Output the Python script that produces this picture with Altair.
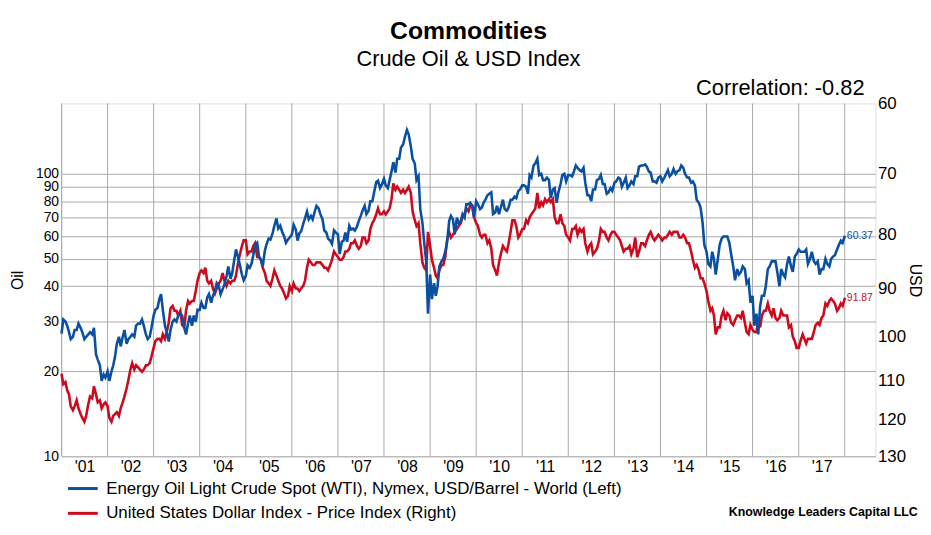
import altair as alt
import pandas as pd

BLUE = "#0b50a0"
RED = "#cc0a1e"
GRID = "#a9a9a9"
FONT = "Liberation Sans"

OIL_LABEL = "Energy Oil Light Crude Spot (WTI), Nymex, USD/Barrel - World  (Left)"
USD_LABEL = "United States Dollar Index - Price Index  (Right)"

# WTI crude, USD/barrel, twice a month (1st and 15th)
oil_2001 = [27.2, 30.5, 30.0, 29.0, 27.5, 26.0, 26.5, 28.0, 28.0, 29.5, 28.5, 27.5, 26.0, 26.5, 27.0, 27.5, 27.0, 28.5, 23.0, 22.0, 21.0, 18.5, 19.5, 19.0]
oil_2002 = [20.0, 18.5, 20.0, 21.0, 22.5, 25.0, 26.5, 24.5, 26.5, 28.0, 25.0, 26.0, 26.5, 27.0, 26.5, 29.0, 29.5, 29.5, 30.5, 29.0, 27.0, 26.0, 26.5, 28.5]
oil_2003 = [31.5, 33.0, 33.5, 36.0, 37.5, 33.0, 29.0, 27.5, 25.5, 28.0, 30.0, 30.5, 30.0, 31.5, 32.0, 31.5, 28.5, 27.0, 29.5, 31.5, 29.0, 31.5, 30.0, 33.0]
oil_2004 = [33.0, 35.0, 33.5, 33.5, 36.5, 37.5, 35.0, 37.0, 38.5, 41.0, 40.0, 37.5, 39.0, 40.5, 43.5, 47.0, 42.5, 44.5, 49.5, 54.0, 50.5, 47.5, 44.0, 42.0]
oil_2005 = [43.5, 47.5, 46.5, 48.0, 51.5, 56.0, 57.0, 51.0, 49.5, 47.0, 53.5, 56.5, 59.0, 58.5, 61.5, 65.5, 69.5, 64.0, 65.5, 62.5, 60.0, 57.0, 58.5, 59.5]
oil_2006 = [61.0, 66.0, 63.5, 58.0, 61.5, 62.5, 66.5, 69.5, 73.5, 69.0, 71.0, 69.0, 73.5, 77.0, 75.5, 72.0, 69.0, 63.0, 62.0, 59.0, 58.0, 56.5, 63.0, 62.0]
oil_2007 = [61.0, 52.0, 57.5, 58.0, 62.0, 57.5, 65.5, 63.5, 64.0, 63.0, 65.0, 68.0, 71.0, 74.0, 77.0, 72.0, 74.0, 80.0, 80.0, 86.0, 93.5, 94.5, 89.0, 91.5]
oil_2008 = [96.0, 91.0, 89.0, 95.0, 102.0, 110.0, 101.0, 113.0, 113.0, 124.0, 127.0, 135.0, 143.0, 138.0, 125.0, 113.0, 109.0, 95.0, 98.0, 75.0, 67.0, 57.0, 49.0, 32.0]
oil_2009 = [44.0, 36.0, 41.0, 37.0, 40.0, 47.0, 49.0, 50.0, 53.0, 57.0, 68.0, 71.0, 69.0, 61.0, 70.0, 67.0, 68.0, 72.0, 70.0, 78.0, 78.0, 79.0, 77.0, 70.0]
oil_2010 = [80.0, 78.0, 75.0, 76.0, 79.0, 81.0, 84.0, 85.0, 86.0, 72.0, 73.0, 77.0, 72.0, 76.0, 81.0, 75.0, 74.0, 76.0, 81.0, 81.0, 83.0, 82.0, 87.0, 88.0]
oil_2011 = [91.0, 91.0, 90.0, 85.0, 99.0, 97.0, 107.0, 109.0, 113.0, 99.0, 100.0, 95.0, 95.0, 97.0, 95.0, 82.0, 88.0, 89.0, 79.0, 86.0, 92.0, 99.0, 100.0, 94.0]
oil_2012 = [99.0, 99.0, 98.0, 102.0, 107.0, 105.0, 103.0, 102.0, 105.0, 93.0, 84.0, 84.0, 80.0, 88.0, 88.0, 95.0, 96.0, 99.0, 92.0, 92.0, 85.0, 86.0, 89.0, 87.0]
oil_2013 = [93.0, 94.0, 97.0, 96.0, 90.0, 93.0, 97.0, 89.0, 91.0, 94.0, 92.0, 98.0, 98.0, 106.0, 107.0, 107.0, 108.0, 106.0, 102.0, 101.0, 94.0, 94.0, 93.0, 97.0]
oil_2014 = [98.0, 94.0, 97.0, 100.0, 103.0, 98.0, 100.0, 104.0, 100.0, 102.0, 103.0, 107.0, 105.0, 100.0, 97.0, 97.0, 93.0, 94.0, 91.0, 81.0, 79.0, 76.0, 67.0, 56.0]
oil_2015 = [53.0, 48.0, 47.0, 53.0, 50.0, 44.0, 50.0, 56.0, 59.0, 60.0, 60.0, 60.0, 57.0, 52.0, 47.0, 42.0, 46.0, 44.0, 45.0, 47.0, 46.0, 41.0, 42.0, 35.0]
oil_2016 = [37.0, 29.0, 32.0, 27.0, 34.0, 37.0, 37.0, 40.0, 46.0, 47.0, 49.0, 49.0, 49.0, 45.0, 40.0, 46.0, 44.0, 43.0, 48.0, 51.0, 47.0, 45.0, 51.0, 52.0]
oil_2017 = [54.0, 53.0, 53.0, 53.0, 54.0, 48.0, 50.0, 53.0, 49.0, 48.0, 49.0, 44.0, 46.0, 46.0, 50.0, 48.0, 47.0, 50.0, 51.0, 51.5, 54.0, 56.0, 58.0, 57.0]
oil_last = [60.37]

# US Dollar Index, same dates
usd_2001 = [108.5, 111.0, 110.5, 112.5, 113.5, 116.5, 117.5, 116.5, 115.0, 117.0, 118.5, 119.5, 120.5, 119.0, 116.0, 114.0, 114.5, 111.5, 113.5, 115.5, 115.0, 117.0, 116.0, 115.5]
usd_2002 = [116.5, 119.5, 120.5, 119.0, 118.5, 118.0, 119.0, 117.0, 115.5, 114.0, 112.0, 110.0, 107.5, 106.0, 107.5, 106.5, 107.0, 107.5, 108.0, 107.5, 106.5, 106.5, 106.0, 104.5]
usd_2003 = [102.5, 101.0, 100.5, 100.5, 101.0, 99.5, 100.5, 99.0, 97.0, 94.0, 93.5, 94.5, 94.5, 95.5, 94.5, 97.5, 98.0, 94.5, 92.5, 93.0, 92.5, 92.5, 90.5, 88.5]
usd_2004 = [87.0, 86.5, 87.0, 86.0, 88.5, 89.0, 88.5, 90.0, 91.0, 90.0, 89.0, 88.5, 87.0, 88.5, 89.5, 88.5, 89.0, 88.5, 88.5, 87.5, 85.0, 83.5, 82.0, 81.0]
usd_2005 = [81.0, 83.5, 83.0, 83.0, 82.0, 81.5, 84.0, 84.0, 84.5, 86.0, 87.0, 88.5, 89.0, 89.5, 88.0, 86.5, 87.5, 88.5, 89.5, 90.0, 91.0, 92.0, 91.5, 89.5]
usd_2006 = [90.5, 89.0, 90.0, 90.0, 90.5, 90.0, 89.5, 88.5, 86.0, 84.5, 85.0, 85.5, 85.5, 85.0, 85.0, 85.0, 85.5, 86.0, 86.0, 86.5, 85.5, 84.5, 83.0, 83.5]
usd_2007 = [84.0, 84.5, 84.5, 84.0, 83.0, 83.0, 82.5, 81.5, 81.5, 81.0, 82.0, 82.5, 82.0, 80.5, 80.5, 81.5, 81.0, 79.0, 78.0, 77.5, 76.5, 75.5, 76.5, 76.5]
usd_2008 = [76.0, 76.5, 76.0, 75.5, 74.0, 71.5, 72.5, 72.0, 72.5, 73.0, 72.5, 73.0, 72.5, 72.0, 73.0, 76.0, 77.5, 78.5, 78.0, 81.5, 85.0, 86.0, 86.5, 79.5]
usd_2009 = [82.0, 84.5, 86.0, 87.5, 88.0, 86.5, 85.5, 85.5, 84.0, 81.0, 79.5, 80.5, 80.0, 79.5, 79.0, 78.5, 78.0, 77.0, 76.5, 75.5, 76.0, 75.0, 75.0, 77.0]
usd_2010 = [78.0, 78.5, 80.0, 80.5, 80.0, 80.0, 81.5, 81.0, 82.5, 85.5, 86.5, 87.5, 85.0, 83.5, 82.0, 82.5, 83.0, 81.5, 79.5, 77.5, 77.5, 78.5, 80.5, 80.0]
usd_2011 = [79.0, 79.0, 77.5, 78.0, 77.0, 76.5, 76.0, 75.5, 73.0, 75.5, 74.5, 75.0, 74.0, 74.5, 74.0, 74.5, 74.0, 77.0, 78.0, 78.0, 76.5, 78.0, 78.5, 80.0]
usd_2012 = [80.5, 81.0, 79.0, 79.0, 78.5, 80.0, 79.0, 79.5, 79.0, 81.5, 83.0, 82.0, 81.5, 83.5, 83.0, 82.5, 81.0, 79.0, 79.5, 79.5, 80.5, 81.0, 80.0, 79.5]
usd_2013 = [79.5, 80.0, 80.5, 81.0, 82.0, 83.0, 82.5, 82.5, 82.0, 83.5, 82.5, 80.5, 84.0, 83.0, 81.5, 81.5, 82.0, 81.0, 80.0, 79.5, 80.5, 81.0, 80.5, 80.0]
usd_2014 = [80.5, 81.0, 80.5, 80.5, 80.0, 79.5, 80.0, 79.5, 79.5, 79.5, 80.5, 80.5, 80.0, 80.5, 81.5, 81.5, 83.0, 84.5, 86.0, 85.5, 86.5, 88.0, 88.0, 89.0]
usd_2015 = [90.5, 92.5, 94.5, 94.0, 95.5, 99.5, 98.0, 98.0, 95.5, 94.5, 96.5, 95.0, 95.5, 97.0, 97.5, 96.5, 95.5, 95.5, 96.0, 94.5, 97.0, 99.0, 99.5, 97.5]
usd_2016 = [98.5, 99.0, 99.0, 96.5, 98.0, 95.5, 94.5, 94.5, 93.0, 94.5, 95.5, 94.0, 96.0, 96.5, 96.0, 94.5, 95.5, 95.5, 95.5, 98.0, 97.5, 100.0, 101.0, 102.5]
usd_2017 = [102.5, 101.0, 99.5, 100.5, 101.5, 100.5, 100.5, 100.5, 99.0, 97.5, 97.0, 97.5, 96.0, 95.5, 93.0, 93.5, 92.5, 92.0, 92.5, 93.0, 94.5, 94.0, 93.0, 93.5]
usd_last = [91.87]

oil_ticks = [10, 20, 30, 40, 50, 60, 70, 80, 90, 100]
usd_ticks = [60, 70, 80, 90, 100, 110, 120, 130]
years = list(range(2001, 2018))
grid_years = list(range(2001, 2019))
correlation_text = ["Correlation: -0.82"]
source_text = ["Knowledge Leaders Capital LLC"]

oil_values = (oil_2001 + oil_2002 + oil_2003 + oil_2004 + oil_2005 + oil_2006 + oil_2007 + oil_2008
              + oil_2009 + oil_2010 + oil_2011 + oil_2012 + oil_2013 + oil_2014 + oil_2015 + oil_2016
              + oil_2017 + oil_last)
usd_values = (usd_2001 + usd_2002 + usd_2003 + usd_2004 + usd_2005 + usd_2006 + usd_2007 + usd_2008
              + usd_2009 + usd_2010 + usd_2011 + usd_2012 + usd_2013 + usd_2014 + usd_2015 + usd_2016
              + usd_2017 + usd_last)
dates = list(pd.date_range("2001-01-01", "2017-12-15", freq="SMS")) + [pd.Timestamp("2018-01-02")]

df = pd.DataFrame({"date": dates, "oil": oil_values, "usd": usd_values})
last_df = df.tail(1)
grid_df = pd.DataFrame({"date": [pd.Timestamp(f"{y}-01-01") for y in grid_years]})

x_enc = alt.X(
    "date:T",
    scale=alt.Scale(domain=[alt.DateTime(year=2001, month=1, date=1),
                            alt.DateTime(year=2018, month=9, date=1)]),
    axis=alt.Axis(
        values=[alt.DateTime(year=y, month=7, date=2) for y in years],
        labelExpr="\"'\" + timeFormat(datum.value, '%y')",
        grid=False, ticks=False, domain=False, title=None,
        labelFontSize=16, labelPadding=2, labelColor="black", labelFont=FONT,
    ),
)

oil_scale = alt.Scale(type="log", domain=[10, 177.5], nice=False, zero=False)
usd_scale = alt.Scale(type="log", domain=[60, 130], nice=False, zero=False, reverse=True)

oil_axis = alt.Axis(
    orient="left", values=oil_ticks, format="d", grid=True, gridColor=GRID, gridWidth=1,
    ticks=False, domain=False, labelOverlap=False, labelFontSize=14, labelPadding=3,
    labelColor="black", labelFont=FONT, title="Oil", titleFontSize=16, titleFontWeight="normal",
    titleColor="black", titleFont=FONT, titlePadding=10,
)
usd_axis = alt.Axis(
    orient="right", values=usd_ticks, format="d", grid=False,
    ticks=False, domain=False, labelOverlap=False, labelFontSize=17, labelPadding=2,
    labelColor="black", labelFont=FONT, title="USD", titleFontSize=16, titleFontWeight="normal",
    titleColor="black", titleFont=FONT, titlePadding=1,
)

color_scale = alt.Scale(domain=[OIL_LABEL, USD_LABEL], range=[BLUE, RED])
legend = alt.Legend(
    orient="none", legendX=5, legendY=372, title=None, direction="vertical",
    symbolType="stroke", symbolSize=900, symbolStrokeWidth=3,
    labelFontSize=17, labelFont=FONT, labelColor="black", labelOffset=7, labelLimit=900,
    rowPadding=-10, padding=0,
)

grid = alt.Chart(grid_df).mark_rule(color=GRID, strokeWidth=1).encode(x=x_enc)

oil_line = alt.Chart(df).transform_calculate(series=f"'{OIL_LABEL}'").mark_line(strokeWidth=2.6).encode(
    x=x_enc,
    y=alt.Y("oil:Q", scale=oil_scale, axis=oil_axis),
    color=alt.Color("series:N", scale=color_scale, legend=legend),
)
oil_label = alt.Chart(last_df).mark_text(
    align="left", baseline="middle", dx=2, fontSize=10.5, font=FONT, color=BLUE
).encode(
    x=x_enc,
    y=alt.Y("oil:Q", scale=oil_scale, axis=oil_axis),
    text=alt.Text("oil:Q", format=".2f"),
)

usd_line = alt.Chart(df).transform_calculate(series=f"'{USD_LABEL}'").mark_line(strokeWidth=2.6).encode(
    x=x_enc,
    y=alt.Y("usd:Q", scale=usd_scale, axis=usd_axis),
    color=alt.Color("series:N", scale=color_scale, legend=legend),
)
usd_label = alt.Chart(last_df).mark_text(
    align="left", baseline="middle", dx=2, fontSize=10.5, font=FONT, color=RED
).encode(
    x=x_enc,
    y=alt.Y("usd:Q", scale=usd_scale, axis=usd_axis),
    text=alt.Text("usd:Q", format=".2f"),
)

corr = alt.Chart(pd.DataFrame({"t": correlation_text})).mark_text(
    align="right", baseline="alphabetic", fontSize=22, font=FONT, color="black"
).encode(x=alt.value(810), y=alt.value(-8), text="t:N")

source = alt.Chart(pd.DataFrame({"t": source_text})).mark_text(
    align="left", baseline="alphabetic", fontSize=12.5, fontWeight="bold", font=FONT, color="black"
).encode(x=alt.value(673), y=alt.value(416), text="t:N")

usd_layer = alt.layer(usd_line, usd_label)
oil_layer = alt.layer(oil_line, oil_label)

chart = alt.layer(grid, usd_layer, oil_layer, corr, source).resolve_scale(
    y="independent"
).properties(
    width=821,
    height=356,
    padding={"left": 54, "top": 94, "right": 48, "bottom": 64},
    autosize=alt.AutoSizeParams(type="none"),
    title=alt.TitleParams(
        text="Commodities", subtitle="Crude Oil & USD Index",
        fontSize=25, fontWeight="bold", font=FONT, color="black",
        subtitleFontSize=22, subtitleFont=FONT, subtitleColor="black",
        anchor="middle", frame="group", offset=8, subtitlePadding=5,
    ),
).configure_view(strokeWidth=0).configure(font=FONT, background="white")

chart.save("out.html", embed_options={"renderer": "svg", "actions": False})
